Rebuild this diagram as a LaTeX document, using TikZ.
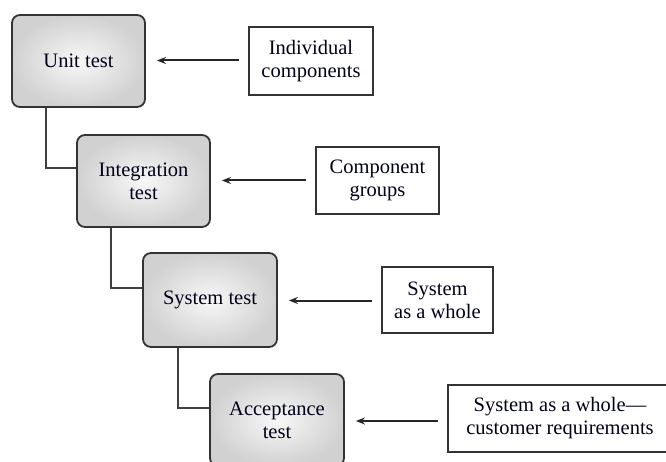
\documentclass[tikz,border=0pt]{standalone}
\usepackage{fontspec}
\setmainfont{Liberation Serif}
\usetikzlibrary{arrows.meta}
\begin{document}
\begin{tikzpicture}[x=1pt,y=-1pt,
  stage/.style={draw=black!80,line width=1.8pt,rounded corners=8pt,
    inner color=gray!6,outer color=gray!36,align=center,
    font=\fontsize{20.5}{23}\selectfont,text=black!90!blue},
  input/.style={draw=black!80,line width=1.8pt,fill=white,align=center,
    font=\fontsize{20.5}{23}\selectfont,text=black!90!blue},
  link/.style={draw=black!75,line width=1.8pt},
  feed/.style={draw=black!85,line width=2pt,-{Stealth[length=9pt,width=7pt]},
    shorten >=11pt,shorten <=9pt}]
\useasboundingbox (0,0) rectangle (666,462);
\clip (0,0) rectangle (666,462);
\node[stage,minimum width=133pt,minimum height=92pt] (unit) at (78.5,61) {Unit test};
\node[stage,minimum width=133pt,minimum height=92pt] (integ) at (143.5,181) {Integration\\test};
\node[stage,minimum width=134pt,minimum height=94pt] (sys) at (210,300) {System test};
\node[stage,minimum width=134pt,minimum height=92pt] (acc) at (277,420) {Acceptance\\test};
\node[input,minimum width=124pt,minimum height=68pt] (ind) at (311,61) {Individual\\components};
\node[input,minimum width=123pt,minimum height=67pt] (comp) at (377.5,180.5) {Component\\groups};
\node[input,minimum width=111pt,minimum height=66pt] (whole) at (437.5,300) {System\\as a whole};
\node[input,minimum width=224pt,minimum height=67pt] (cust) at (560,418.5) {System as a whole—\\customer requirements};
\draw[link] ([xshift=35pt]unit.south west) |- ([yshift=13pt]integ.west);
\draw[link] ([xshift=35pt]integ.south west) |- ([yshift=12pt]sys.west);
\draw[link] ([xshift=36pt]sys.south west) |- ([yshift=12pt]acc.west);
\draw[feed] ([yshift=0.5pt]ind.west) -- ([yshift=0.5pt]ind.west -| unit.east);
\draw[feed] ([yshift=0pt]comp.west) -- ([yshift=0pt]comp.west -| integ.east);
\draw[feed] ([yshift=-0.5pt]whole.west) -- ([yshift=-0.5pt]whole.west -| sys.east);
\draw[feed] ([yshift=-2.5pt]cust.west) -- ([yshift=-2.5pt]cust.west -| acc.east);
\end{tikzpicture}
\end{document}
